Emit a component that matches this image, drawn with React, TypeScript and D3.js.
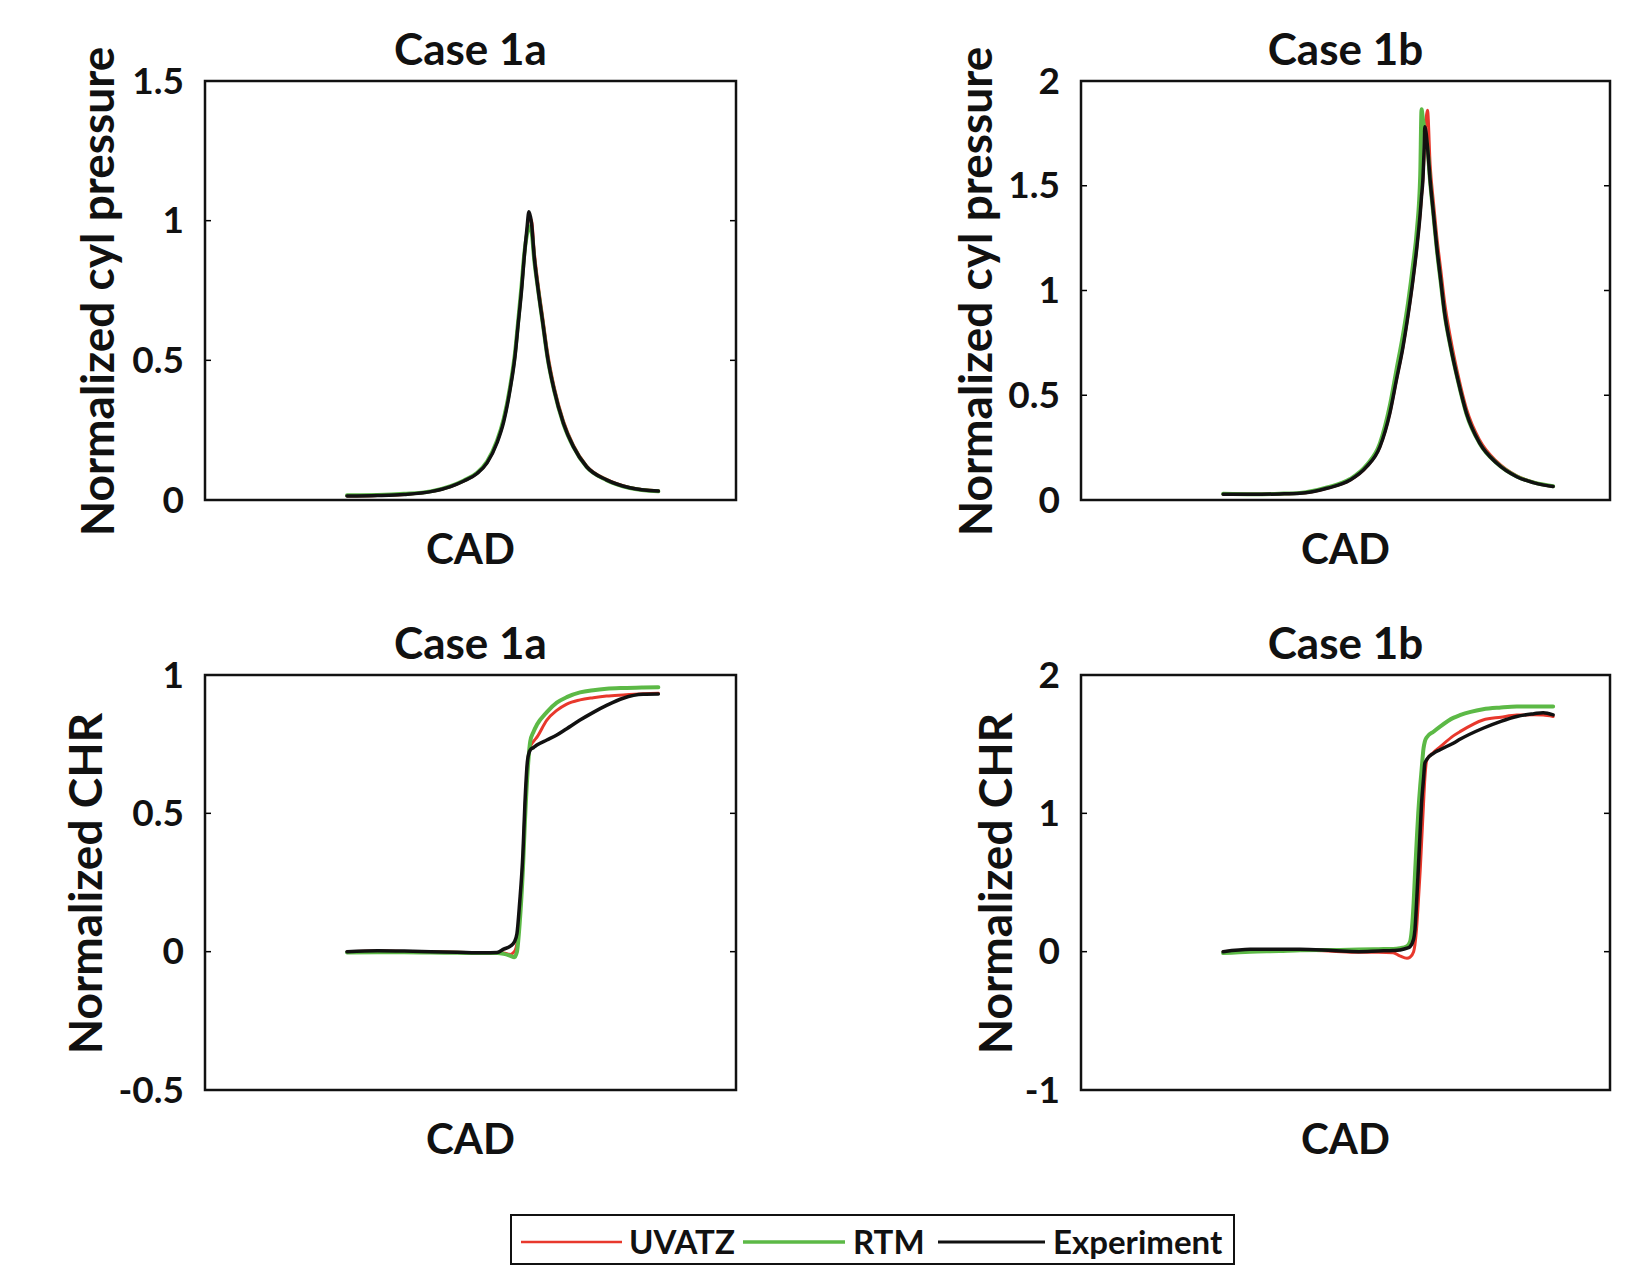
import React, { useEffect, useRef } from 'react'
import * as d3 from 'd3'

// top-left: Case 1a pressure
const cadP1a = [-18.6, -14, -10, -6, -3, -1, 1, 2.5, 4, 5, 6, 6.7, 7.2, 7.7, 8.1, 8.5, 8.8, 9.2, 9.6, 10.2, 10.9, 11.6, 12.6, 14, 15.5, 17.5, 20.5, 24, 28.3]
const uvatzP1a = [0.014, 0.016, 0.02, 0.03, 0.048, 0.068, 0.096, 0.135, 0.21, 0.29, 0.41, 0.52, 0.64, 0.76, 0.875, 0.96, 1.01, 1.0, 0.89, 0.77, 0.65, 0.53, 0.405, 0.283, 0.196, 0.122, 0.074, 0.045, 0.033]
const rtmP1a = [0.017, 0.018, 0.022, 0.031, 0.05, 0.07, 0.098, 0.138, 0.212, 0.29, 0.41, 0.525, 0.645, 0.77, 0.88, 0.95, 0.98, 0.96, 0.86, 0.75, 0.63, 0.51, 0.392, 0.273, 0.19, 0.118, 0.071, 0.043, 0.031]
const expP1a = [0.014, 0.016, 0.02, 0.03, 0.048, 0.068, 0.095, 0.133, 0.205, 0.28, 0.4, 0.513, 0.633, 0.752, 0.871, 0.97, 1.032, 0.99, 0.871, 0.752, 0.633, 0.513, 0.394, 0.275, 0.191, 0.119, 0.072, 0.044, 0.032]

// top-right: Case 1b pressure
const cadP1b = [-18.5, -14, -10, -6.9, -2.8, 0.7, 3.2, 5.2, 6.7, 7.7, 8.7, 9.5, 10.2, 10.8, 11.3, 11.5, 11.7, 11.9, 12.0, 12.4, 12.8, 13.3, 13.8, 14.4, 15.0, 15.9, 17.0, 18.3, 20.3, 22.9, 25.9, 28.4, 31.4]
const uvatzP1b = [0.027, 0.027, 0.029, 0.032, 0.056, 0.095, 0.159, 0.254, 0.414, 0.573, 0.732, 0.891, 1.05, 1.209, 1.37, 1.45, 1.53, 1.65, 1.72, 1.86, 1.6, 1.42, 1.26, 1.1, 0.94, 0.77, 0.6, 0.435, 0.285, 0.183, 0.115, 0.085, 0.065]
const rtmP1b = [0.03, 0.028, 0.03, 0.034, 0.06, 0.1, 0.167, 0.27, 0.45, 0.62, 0.79, 0.95, 1.12, 1.29, 1.55, 1.865, 1.82, 1.78, 1.76, 1.68, 1.52, 1.36, 1.2, 1.04, 0.885, 0.728, 0.57, 0.41, 0.27, 0.175, 0.112, 0.084, 0.066]
const expP1b = [0.027, 0.027, 0.029, 0.032, 0.056, 0.095, 0.159, 0.254, 0.414, 0.573, 0.732, 0.891, 1.05, 1.209, 1.368, 1.45, 1.527, 1.686, 1.782, 1.686, 1.527, 1.368, 1.209, 1.05, 0.891, 0.732, 0.573, 0.414, 0.271, 0.175, 0.111, 0.083, 0.064]

// bottom-left: Case 1a CHR
const cadC1a = [-18.6, -14, -10, -6, -2, 2, 4, 5, 6, 6.6, 7.0, 7.4, 7.9, 8.2, 8.6, 9.0, 9.5, 10.0, 11.5, 13.0, 14.5, 16.5, 18.5, 20.5, 23.0, 26.0, 28.3]
const uvatzC1a = [0.0, 0.002, 0.001, 0.0, -0.002, -0.004, -0.004, -0.005, -0.01, 0.0, 0.03, 0.13, 0.32, 0.5, 0.68, 0.74, 0.76, 0.775, 0.837, 0.872, 0.895, 0.91, 0.918, 0.924, 0.928, 0.932, 0.934]
const rtmC1a = [-0.003, -0.002, -0.002, -0.003, -0.004, -0.005, -0.005, -0.008, -0.015, -0.02, 0.0, 0.1, 0.3, 0.47, 0.65, 0.76, 0.795, 0.82, 0.866, 0.9, 0.92, 0.937, 0.945, 0.95, 0.953, 0.955, 0.956]
const expC1a = [0.0, 0.003, 0.002, 0.0, -0.002, -0.004, -0.003, 0.009, 0.02, 0.035, 0.066, 0.175, 0.356, 0.536, 0.693, 0.729, 0.738, 0.747, 0.765, 0.783, 0.806, 0.837, 0.865, 0.89, 0.916, 0.93, 0.931]

// bottom-right: Case 1b CHR
const cadC1b = [-18.5, -14.4, -10, -6.9, -2, 2, 5, 7.2, 8.2, 9.3, 9.75, 10.3, 10.5, 10.8, 11.0, 11.3, 11.5, 11.8, 12.0, 12.3, 13.3, 14.3, 16.3, 17.3, 20.8, 23.5, 25.9, 28.5, 29.9, 31.4]
const uvatzC1b = [0.0, 0.012, 0.014, 0.012, 0.003, -0.005, -0.005, -0.008, -0.03, -0.048, -0.04, 0.0, 0.05, 0.2, 0.35, 0.59, 0.78, 1.07, 1.25, 1.386, 1.44, 1.48, 1.56, 1.59, 1.675, 1.695, 1.71, 1.712, 1.71, 1.7]
const rtmC1b = [-0.01, 0.0, 0.005, 0.01, 0.012, 0.015, 0.018, 0.02, 0.025, 0.04, 0.07, 0.35, 0.55, 0.83, 1.0, 1.2, 1.31, 1.47, 1.52, 1.55, 1.59, 1.627, 1.69, 1.71, 1.753, 1.765, 1.772, 1.773, 1.773, 1.772]
const expC1b = [0.0, 0.017, 0.018, 0.017, 0.008, 0.0, 0.005, 0.008, 0.012, 0.025, 0.036, 0.09, 0.157, 0.4, 0.59, 0.88, 1.07, 1.25, 1.362, 1.39, 1.434, 1.46, 1.507, 1.535, 1.615, 1.665, 1.7, 1.72, 1.728, 1.712]

const seriesNames = ['UVATZ', 'RTM', 'Experiment']
const seriesColors = ['#e8382c', '#5cb946', '#111111']
const seriesWidths = [3, 4, 3.5]

const cadDomain = [-40, 40]

const panels = [
    { title: 'Case 1a', ylabel: 'Normalized cyl pressure', domain: [0, 1.5], ticks: [0, 0.5, 1, 1.5], cad: cadP1a, series: [uvatzP1a, rtmP1a, expP1a], x0: 205, x1: 736, y0: 81, y1: 500, labelX: 114 },
    { title: 'Case 1b', ylabel: 'Normalized cyl pressure', domain: [0, 2], ticks: [0, 0.5, 1, 1.5, 2], cad: cadP1b, series: [uvatzP1b, rtmP1b, expP1b], x0: 1081, x1: 1610, y0: 81, y1: 500, labelX: 992 },
    { title: 'Case 1a', ylabel: 'Normalized CHR', domain: [-0.5, 1], ticks: [-0.5, 0, 0.5, 1], cad: cadC1a, series: [uvatzC1a, rtmC1a, expC1a], x0: 205, x1: 736, y0: 675, y1: 1090, labelX: 102 },
    { title: 'Case 1b', ylabel: 'Normalized CHR', domain: [-1, 2], ticks: [-1, 0, 1, 2], cad: cadC1b, series: [uvatzC1b, rtmC1b, expC1b], x0: 1081, x1: 1610, y0: 675, y1: 1090, labelX: 1012 },
]

const FONT = 'Lato, "Open Sans", sans-serif'

const App = () => {
    const ref = useRef(null)

    useEffect(() => {
        const svg = d3.select(ref.current)
        svg.selectAll('*').remove()

        panels.forEach(p => {
            const x = d3.scaleLinear().domain(cadDomain).range([p.x0, p.x1])
            const y = d3.scaleLinear().domain(p.domain).range([p.y1, p.y0])
            const g = svg.append('g')

            // curves, plotted in legend order so Experiment sits on top
            p.series.forEach((vals, i) => {
                const pts = p.cad.map((c, j) => [c, vals[j]])
                const line = d3.line()
                    .x(d => x(d[0]))
                    .y(d => y(d[1]))
                    .curve(d3.curveMonotoneX)
                g.append('path')
                    .attr('d', line(pts))
                    .attr('fill', 'none')
                    .attr('stroke', seriesColors[i])
                    .attr('stroke-width', seriesWidths[i])
                    .attr('stroke-linejoin', 'round')
                    .attr('stroke-linecap', 'round')
            })

            // ticks inside on both sides, like matlab
            p.ticks.forEach(t => {
                g.append('line').attr('x1', p.x0).attr('x2', p.x0 + 6)
                    .attr('y1', y(t)).attr('y2', y(t)).attr('stroke', '#000').attr('stroke-width', 1.5)
                g.append('line').attr('x1', p.x1).attr('x2', p.x1 - 6)
                    .attr('y1', y(t)).attr('y2', y(t)).attr('stroke', '#000').attr('stroke-width', 1.5)
                g.append('text')
                    .attr('x', p.x0 - 21)
                    .attr('y', y(t) + 12.5)
                    .attr('text-anchor', 'end')
                    .attr('font-family', FONT)
                    .attr('font-weight', 700)
                    .attr('font-size', 37)
                    .attr('fill', '#111')
                    .text(String(t))
            })

            g.append('rect')
                .attr('x', p.x0).attr('y', p.y0)
                .attr('width', p.x1 - p.x0).attr('height', p.y1 - p.y0)
                .attr('fill', 'none').attr('stroke', '#111').attr('stroke-width', 2.5)

            const cx = (p.x0 + p.x1) / 2
            g.append('text')
                .attr('x', cx).attr('y', p.y0 - 16)
                .attr('text-anchor', 'middle')
                .attr('font-family', FONT).attr('font-weight', 700).attr('font-size', 44)
                .attr('fill', '#111')
                .text(p.title)

            g.append('text')
                .attr('x', cx).attr('y', p.y1 + 64)
                .attr('text-anchor', 'middle')
                .attr('font-family', FONT).attr('font-weight', 700).attr('font-size', 42)
                .attr('fill', '#111')
                .text('CAD')

            g.append('text')
                .attr('transform', `translate(${p.labelX}, ${(p.y0 + p.y1) / 2 + 1}) rotate(-90)`)
                .attr('text-anchor', 'middle')
                .attr('font-family', FONT).attr('font-weight', 700).attr('font-size', 46)
                .attr('fill', '#111')
                .text(p.ylabel)
        })

        // legend
        const lg = svg.append('g')
        lg.append('rect')
            .attr('x', 511).attr('y', 1215).attr('width', 723).attr('height', 49)
            .attr('fill', '#fff').attr('stroke', '#111').attr('stroke-width', 2)
        const items = [
            { lx0: 521, lx1: 622, tx: 629 },
            { lx0: 743, lx1: 845, tx: 853 },
            { lx0: 938, lx1: 1045, tx: 1053 },
        ]
        items.forEach((it, i) => {
            lg.append('line')
                .attr('x1', it.lx0).attr('x2', it.lx1).attr('y1', 1242).attr('y2', 1242)
                .attr('stroke', seriesColors[i]).attr('stroke-width', seriesWidths[i] - 0.5)
            lg.append('text')
                .attr('x', it.tx).attr('y', 1254)
                .attr('font-family', FONT).attr('font-weight', 700).attr('font-size', 33)
                .attr('fill', '#111')
                .text(seriesNames[i])
        })
    }, [])

    return (
        <svg ref={ref} width={1625} height={1275}
            style={{ position: 'absolute', left: 0, top: 0, background: '#fff' }} />
    )
}

export default App
